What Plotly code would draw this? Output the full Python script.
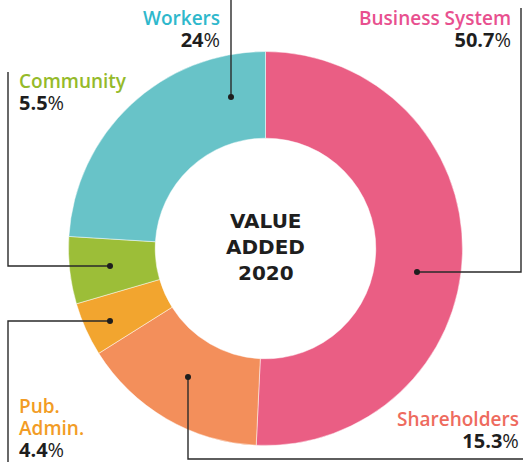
import plotly.graph_objects as go

W, H = 523, 462

# ---- data ----
categories = ["Business System", "Shareholders", "Pub. Admin.", "Community", "Workers"]
values = [50.7, 15.3, 4.4, 5.5, 24.0]
pct_labels = ["50.7", "15.3", "4.4", "5.5", "24"]
slice_colors = ["#EA5E84", "#F38F5B", "#F2A52F", "#9CBE38", "#68C3C8"]
label_colors = ["#E8508F", "#EE6B5E", "#F29C25", "#95BA2A", "#2FB8CC"]
center_lines = ["VALUE", "ADDED", "2020"]

def px(x):
    return x / W

def py(y):
    return 1 - y / H

fig = go.Figure()

cx, cy, r = 265.5, 248.5, 197
fig.add_trace(go.Pie(
    labels=categories,
    values=values,
    sort=False,
    direction="clockwise",
    rotation=0,
    hole=0.56,
    marker=dict(colors=slice_colors, line=dict(color="rgba(255,255,255,0.6)", width=0.8)),
    textinfo="none",
    hoverinfo="label+percent",
    showlegend=False,
    domain=dict(x=[px(cx - r), px(cx + r)], y=[py(cy + r), py(cy - r)]),
))

# label layout: (anchor, x, block centre y, split name into lines?)
label_layout = {
    "Business System": ("right", 513, 29.5, False),
    "Shareholders": ("right", 521, 430, False),
    "Pub. Admin.": ("left", 17, 428, True),
    "Community": ("left", 17, 92, False),
    "Workers": ("right", 222, 29.5, False),
}

annotations = []
for cat, pct, col in zip(categories, pct_labels, label_colors):
    anchor, x, yy, split = label_layout[cat]
    name = "<br>".join(cat.split(" ")) if split else cat
    name_html = "<br>".join(
        f"<span style='font-size:19px'>{p}</span>" for p in name.split("<br>")
    )
    pct_html = (
        f"<span style='color:#1E1E1E;font-size:20px'><b>{pct}</b></span>"
        f"<span style='color:#1E1E1E;font-size:20px;font-weight:400'>%</span>"
    )
    annotations.append(dict(
        x=px(x), y=py(yy), xref="paper", yref="paper",
        xanchor=anchor, yanchor="middle", align=anchor, showarrow=False,
        text=name_html + "<br>" + pct_html,
        font=dict(family="Open Sans", size=17, weight=600, color=col),
    ))

for line, yy in zip(center_lines, [221, 247, 273]):
    annotations.append(dict(
        x=px(cx), y=py(yy), xref="paper", yref="paper",
        xanchor="center", yanchor="middle", showarrow=False,
        text=f"<b>{line}</b>",
        font=dict(family="DejaVu Sans", size=20, color="#1E1E1E"),
    ))

# leader lines (pixel paths)
leaders = [
    [(231, 0), (231, 97)],
    [(521, 8), (521, 272), (417, 272)],
    [(8, 72), (8, 266), (110, 266)],
    [(8, 462), (8, 321), (110, 321)],
    [(188, 377), (188, 459), (523, 459)],
]
dots = [(231, 97), (417, 272), (110, 266), (110, 321), (188, 377)]

shapes = []
for path in leaders:
    d = "M " + " L ".join(f"{px(x)},{py(y)}" for x, y in path)
    shapes.append(dict(type="path", xref="paper", yref="paper", path=d,
                       line=dict(color="#2A2A2A", width=1.4)))
for x, y in dots:
    rr = 3
    shapes.append(dict(type="circle", xref="paper", yref="paper",
                       x0=px(x - rr), x1=px(x + rr), y0=py(y + rr), y1=py(y - rr),
                       fillcolor="#1E1E1E", line=dict(width=0)))

fig.update_layout(
    width=W, height=H,
    margin=dict(l=0, r=0, t=0, b=0),
    paper_bgcolor="white", plot_bgcolor="white",
    annotations=annotations, shapes=shapes,
)

fig.write_html(
    "out.html",
    config={"displayModeBar": False},
    post_script="document.body.style.margin='0';document.body.style.overflow='hidden';",
)
